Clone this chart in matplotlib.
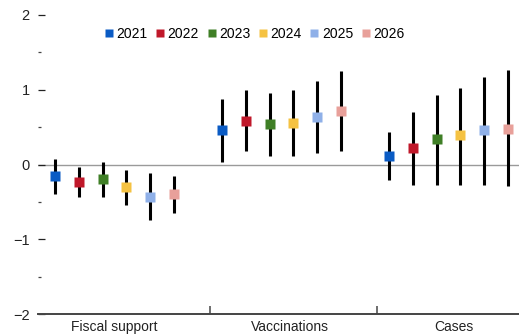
import numpy as np
import matplotlib
matplotlib.use("Agg")
import matplotlib.pyplot as plt

plt.rcParams['font.family'] = ['Liberation Sans', 'DejaVu Sans']

# data
groups = ["Fiscal support", "Vaccinations", "Cases"]
years = ["2021", "2022", "2023", "2024", "2025", "2026"]
colors = ["#0a5bc4", "#c0182a", "#3f7f26", "#f5c242", "#8fb0e8", "#e8a09a"]

# point estimates and ranges, one list per group (years in order)
fiscal_mid = [-0.16, -0.24, -0.20, -0.30, -0.43, -0.40]
fiscal_lo = [-0.39, -0.43, -0.43, -0.54, -0.74, -0.65]
fiscal_hi = [0.07, -0.04, 0.03, -0.07, -0.12, -0.15]

vacc_mid = [0.46, 0.58, 0.54, 0.55, 0.64, 0.72]
vacc_lo = [0.04, 0.18, 0.11, 0.11, 0.16, 0.18]
vacc_hi = [0.88, 0.99, 0.95, 1.00, 1.12, 1.25]

cases_mid = [0.12, 0.22, 0.34, 0.39, 0.46, 0.48]
cases_lo = [-0.21, -0.27, -0.27, -0.27, -0.27, -0.29]
cases_hi = [0.44, 0.70, 0.93, 1.03, 1.17, 1.26]

mids = [fiscal_mid, vacc_mid, cases_mid]
los = [fiscal_lo, vacc_lo, cases_lo]
his = [fiscal_hi, vacc_hi, cases_hi]

fig = plt.figure(figsize=(5.19, 3.36), dpi=100)
ax = fig.add_axes([38 / 519, 22 / 336, 481 / 519, 299 / 336])

ax.axhline(0, color="#9a9a9a", lw=1, zorder=1)

step = 0.1425
for g in range(len(groups)):
    for k, yr in enumerate(years):
        x = g + (k - 2.5) * step
        ax.vlines(x, los[g][k], his[g][k], color="black", lw=2.2, zorder=2)
        ax.plot(x, mids[g][k], marker="s", ms=6.8, color=colors[k], mec="none",
                ls="none", zorder=3, label=yr if g == 0 else None)

ax.set_xlim(-0.458, 2.422)
ax.set_ylim(-2, 2)

for s in ["left", "right", "top"]:
    ax.spines[s].set_visible(False)
ax.spines["bottom"].set_color("#444444")
ax.spines["bottom"].set_linewidth(1.4)

ax.set_yticks([-2, -1, 0, 1, 2])
ax.set_yticklabels(["\u22122", "\u22121", "0", "1", "2"])
ax.set_yticks([-1.5, -0.5, 0.5, 1.5], minor=True)
ax.tick_params(axis="y", which="major", direction="in", length=5, width=0.9,
               pad=6, labelsize=10.5, colors="#222222")
ax.tick_params(axis="y", which="minor", direction="in", length=2, width=0.9,
               colors="#444444")

ax.set_xticks([0.0, 1.05, 2.03])
ax.set_xticklabels(groups)
ax.set_xticks([0.572, 1.572], minor=True)
ax.tick_params(axis="x", which="major", length=0, pad=4, labelsize=10,
               colors="#222222")
ax.tick_params(axis="x", which="minor", direction="in", length=6, width=1.2,
               colors="#555555")

# legend centred near x=255px, y=33px of the figure
leg = ax.legend(loc="center", bbox_to_anchor=((255 - 38) / 481, (336 - 34 - 22) / 299),
                ncol=6, frameon=False, fontsize=10, handlelength=0.5,
                handletextpad=0.3, columnspacing=0.65, markerscale=0.85,
                borderaxespad=0)

fig.savefig("out.png", dpi=100)
